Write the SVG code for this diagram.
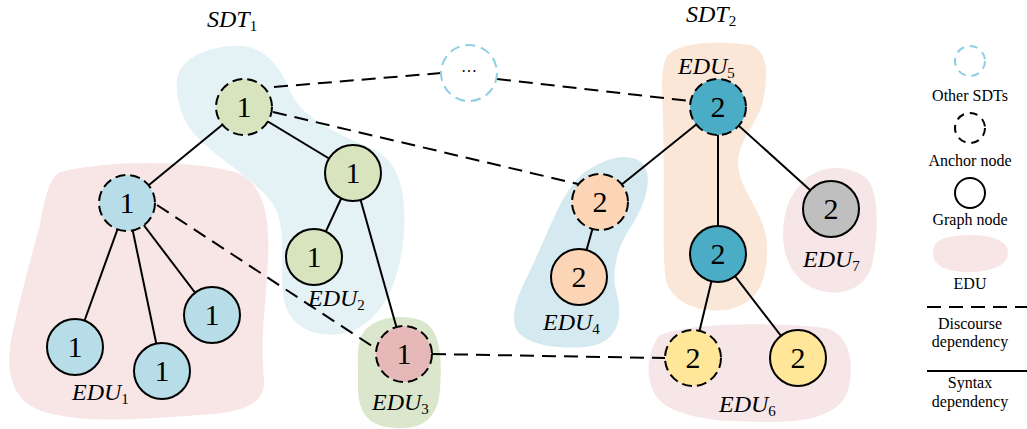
<svg xmlns="http://www.w3.org/2000/svg" width="1027" height="429" viewBox="0 0 1027 429">
  <style>
    .blob { stroke: none; }
    .node { stroke: #000; stroke-width: 2; }
    .anchor { stroke-dasharray: 10 5; }
    .syn { stroke: #000; stroke-width: 2; fill: none; }
    .dis { stroke: #000; stroke-width: 2; fill: none; stroke-dasharray: 14 8; }
    .num { font-family: "Liberation Serif", "Times New Roman", serif; font-size: 30px; text-anchor: middle; fill: #000; }
    .lab { font-family: "Liberation Serif", "Times New Roman", serif; font-size: 24px; font-style: italic; fill: #000; }
    .sub { font-size: 15px; font-style: normal; }
    .leg { font-family: "Liberation Serif", "Times New Roman", serif; font-size: 16px; text-anchor: middle; fill: #000; }
    .green { fill: #d7e4bd; }
    .lblue { fill: #b6dde8; }
    .red { fill: #e6b9b8; }
    .teal { fill: #4bacc6; }
    .peach { fill: #fbd5b5; }
    .gray { fill: #bfbfbf; }
    .yellow { fill: #ffe699; }
  </style>

  <!-- EDU regions -->
  <g id="regions">
    <path id="region-sdt1-top" class="blob" fill="#e4f1f5" d="M 177,80 C 180,55 215,45 240,46 C 265,47 280,65 292,95 C 305,120 340,135 375,150 C 405,165 408,210 402,250 C 396,290 380,320 350,332 C 320,340 290,330 284,300 C 278,265 290,225 270,200 C 245,170 200,150 185,120 C 178,105 176,92 177,80 Z"/>
    <path id="region-edu1" class="blob" fill="#f8e5e5" d="M 60,172 C 110,160 190,160 235,172 C 265,182 270,220 268,260 C 266,300 260,340 264,380 C 266,405 240,413 200,415 C 150,418 90,425 45,412 C 10,402 5,370 12,335 C 20,300 30,260 40,225 C 45,195 50,178 60,172 Z"/>
    <path id="region-edu3" class="blob" fill="#dbe7cc" d="M 360,340 C 365,320 395,312 420,320 C 442,328 442,360 440,390 C 438,420 420,430 395,428 C 365,426 357,410 358,380 C 358,360 357,350 360,340 Z"/>
    <path id="region-edu4" class="blob" fill="#d5e9f0" d="M 585,172 C 600,162 620,152 638,160 C 655,170 648,200 632,225 C 618,245 610,270 617,295 C 625,325 612,345 585,347 C 560,349 530,346 518,332 C 508,318 518,295 528,275 C 540,250 550,225 560,205 C 568,190 575,180 585,172 Z"/>
    <path id="region-edu5" class="blob" fill="#fbe7d8" d="M 668,55 C 680,42 720,40 750,45 C 770,50 768,80 762,105 C 755,125 740,140 738,160 C 737,190 765,210 767,245 C 768,285 755,305 725,310 C 695,313 668,300 665,275 C 662,240 665,180 663,120 C 662,90 660,65 668,55 Z"/>
    <path id="region-edu7" class="blob" fill="#f6e6e8" d="M 800,185 C 815,165 850,162 868,180 C 880,195 878,240 872,265 C 865,290 840,297 818,290 C 795,282 783,260 783,235 C 783,215 788,198 800,185 Z"/>
    <path id="region-edu6" class="blob" fill="#f6e6e8" d="M 660,335 C 690,322 780,322 825,328 C 850,333 855,365 848,390 C 840,418 800,423 760,422 C 720,421 690,420 665,405 C 645,392 643,355 660,335 Z"/>
  </g>

  <!-- Tree titles -->
  <text class="lab" x="207" y="27">SDT<tspan class="sub" dy="4">1</tspan></text>
  <text class="lab" x="686" y="22">SDT<tspan class="sub" dy="4">2</tspan></text>

  <!-- Connectors -->
  <g id="connectors">
    <!-- syntax dependencies -->
    <line class="syn" x1="244" y1="107" x2="127" y2="203"/>
    <line class="syn" x1="244" y1="107" x2="353" y2="173"/>
    <line class="syn" x1="353" y1="173" x2="314" y2="257"/>
    <line class="syn" x1="353" y1="173" x2="404" y2="354"/>
    <line class="syn" x1="127" y1="203" x2="75" y2="347"/>
    <line class="syn" x1="127" y1="203" x2="162" y2="371"/>
    <line class="syn" x1="127" y1="203" x2="212" y2="315"/>
    <line class="syn" x1="718" y1="107" x2="600" y2="202"/>
    <line class="syn" x1="718" y1="107" x2="718" y2="254"/>
    <line class="syn" x1="718" y1="107" x2="831" y2="209"/>
    <line class="syn" x1="600" y1="202" x2="579" y2="277"/>
    <line class="syn" x1="718" y1="254" x2="693" y2="358"/>
    <line class="syn" x1="718" y1="254" x2="798" y2="358"/>
    <!-- discourse dependencies -->
    <line class="dis" x1="274" y1="87" x2="441" y2="73"/>
    <line class="dis" x1="497" y1="79" x2="690" y2="101"/>
    <line class="dis" x1="273" y1="112" x2="578" y2="184"/>
    <line class="dis" x1="157" y1="205" x2="378" y2="350"/>
    <line class="dis" x1="432" y1="354" x2="665" y2="358"/>
  </g>

  <!-- SDT1 nodes -->
  <g id="n-root1"><circle class="node anchor green" cx="244" cy="107" r="28"/><text class="num" x="244" y="117">1</text></g>
  <g id="n-b1"><circle class="node green" cx="353" cy="173" r="28"/><text class="num" x="353" y="183">1</text></g>
  <g id="n-c1"><circle class="node anchor lblue" cx="127" cy="203" r="28"/><text class="num" x="127" y="213">1</text></g>
  <g id="n-d1"><circle class="node green" cx="314" cy="257" r="28"/><text class="num" x="314" y="267">1</text></g>
  <g id="n-e1"><circle class="node lblue" cx="75" cy="347" r="28"/><text class="num" x="75" y="357">1</text></g>
  <g id="n-f1"><circle class="node lblue" cx="162" cy="371" r="28"/><text class="num" x="162" y="381">1</text></g>
  <g id="n-g1"><circle class="node lblue" cx="212" cy="315" r="28"/><text class="num" x="212" y="325">1</text></g>
  <g id="n-h1"><circle class="node anchor red" cx="404" cy="354" r="28"/><text class="num" x="404" y="364">1</text></g>

  <!-- other SDTs -->
  <g id="n-other">
    <circle cx="469" cy="73" r="28" fill="#fff" stroke="#8dcfe0" stroke-width="2" stroke-dasharray="10 6"/>
    <text class="leg" x="469" y="77" font-size="18">···</text>
  </g>

  <!-- SDT2 nodes -->
  <g id="n-root2"><circle class="node anchor teal" cx="718" cy="107" r="28"/><text class="num" x="718" y="117">2</text></g>
  <g id="n-j2"><circle class="node anchor peach" cx="600" cy="202" r="28"/><text class="num" x="600" y="212">2</text></g>
  <g id="n-k2"><circle class="node peach" cx="579" cy="277" r="28"/><text class="num" x="579" y="287">2</text></g>
  <g id="n-l2"><circle class="node teal" cx="718" cy="254" r="28"/><text class="num" x="718" y="264">2</text></g>
  <g id="n-m2"><circle class="node gray" cx="831" cy="209" r="28"/><text class="num" x="831" y="219">2</text></g>
  <g id="n-n2"><circle class="node anchor yellow" cx="693" cy="358" r="28"/><text class="num" x="693" y="368">2</text></g>
  <g id="n-o2"><circle class="node yellow" cx="798" cy="358" r="28"/><text class="num" x="798" y="368">2</text></g>

  <!-- EDU labels -->
  <text class="lab" x="72" y="400">EDU<tspan class="sub" dy="4">1</tspan></text>
  <text class="lab" x="308" y="306">EDU<tspan class="sub" dy="4">2</tspan></text>
  <text class="lab" x="372" y="410">EDU<tspan class="sub" dy="4">3</tspan></text>
  <text class="lab" x="543" y="330">EDU<tspan class="sub" dy="4">4</tspan></text>
  <text class="lab" x="678" y="74">EDU<tspan class="sub" dy="4">5</tspan></text>
  <text class="lab" x="719" y="412">EDU<tspan class="sub" dy="4">6</tspan></text>
  <text class="lab" x="803" y="267">EDU<tspan class="sub" dy="4">7</tspan></text>

  <!-- Legend -->
  <g id="legend">
    <circle cx="970" cy="61" r="15" fill="none" stroke="#8dcfe0" stroke-width="2" stroke-dasharray="8 6"/>
    <text class="leg" x="970" y="101">Other SDTs</text>
    <circle cx="970" cy="128" r="15" fill="none" stroke="#000" stroke-width="2" stroke-dasharray="8 6"/>
    <text class="leg" x="970" y="166">Anchor node</text>
    <circle cx="970" cy="193" r="15" fill="none" stroke="#000" stroke-width="2"/>
    <text class="leg" x="970" y="225">Graph node</text>
    <path class="blob" fill="#f8e5e5" d="M 945,238 C 965,233 1000,233 1007,248 C 1012,263 995,272 970,272 C 945,272 932,265 933,252 C 934,243 938,240 945,238 Z"/>
    <text class="leg" x="970" y="289">EDU</text>
    <line class="dis" x1="927" y1="307" x2="1027" y2="307"/>
    <text class="leg" x="970" y="329">Discourse</text>
    <text class="leg" x="970" y="347">dependency</text>
    <line class="syn" x1="927" y1="371" x2="1027" y2="371"/>
    <text class="leg" x="970" y="388">Syntax</text>
    <text class="leg" x="970" y="407">dependency</text>
  </g>
</svg>
